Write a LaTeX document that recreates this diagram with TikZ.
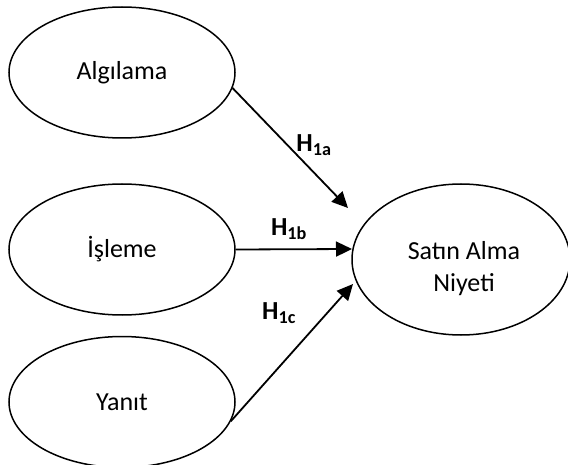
\documentclass[tikz,border=0pt]{standalone}
\usepackage{fontspec}
\setmainfont{Carlito}
\usetikzlibrary{shapes.geometric,arrows.meta}
\begin{document}
\begin{tikzpicture}[x=1pt,y=-1pt,
  ellip/.style={draw,line width=1.5pt,ellipse,minimum width=226pt,minimum height=131pt,inner sep=0pt,font=\fontsize{26}{32}\selectfont},
  bigellip/.style={ellip,minimum width=218pt,minimum height=151pt},
  lbl/.style={font=\fontsize{26}{32}\selectfont,align=center,inner sep=0pt},
  hlbl/.style={font=\fontsize{26}{32}\selectfont\bfseries,inner sep=0pt},
  arr/.style={line width=1.8pt,-{Triangle[length=16pt,width=15pt]}}]
\useasboundingbox (0,0) rectangle (568,465);
\node[ellip] (alg) at (122,72.5) {Algılama};
\node[ellip] (isl) at (122,249.5) {İşleme};
\node[ellip] (yan) at (122,402) {Yanıt};
\node[bigellip] (sat) at (461,259.5) {};
\node[lbl] (satt) at (464,269) {Satın Alma\\Niyeti};
\coordinate (t1) at (348,208);
\coordinate (t2) at (352,249);
\coordinate (t3) at (353,284);
\draw[arr] (alg.-8) -- (t1);
\draw[arr] (isl.east) -- (t2);
\draw[arr] (yan.-10) -- (t3);
\node[hlbl] (h1a) at (314,145) {H\textsubscript{1a}};
\node[hlbl] (h1b) at (289,229) {H\textsubscript{1b}};
\node[hlbl] (h1c) at (279,313) {H\textsubscript{1c}};
\end{tikzpicture}
\end{document}
